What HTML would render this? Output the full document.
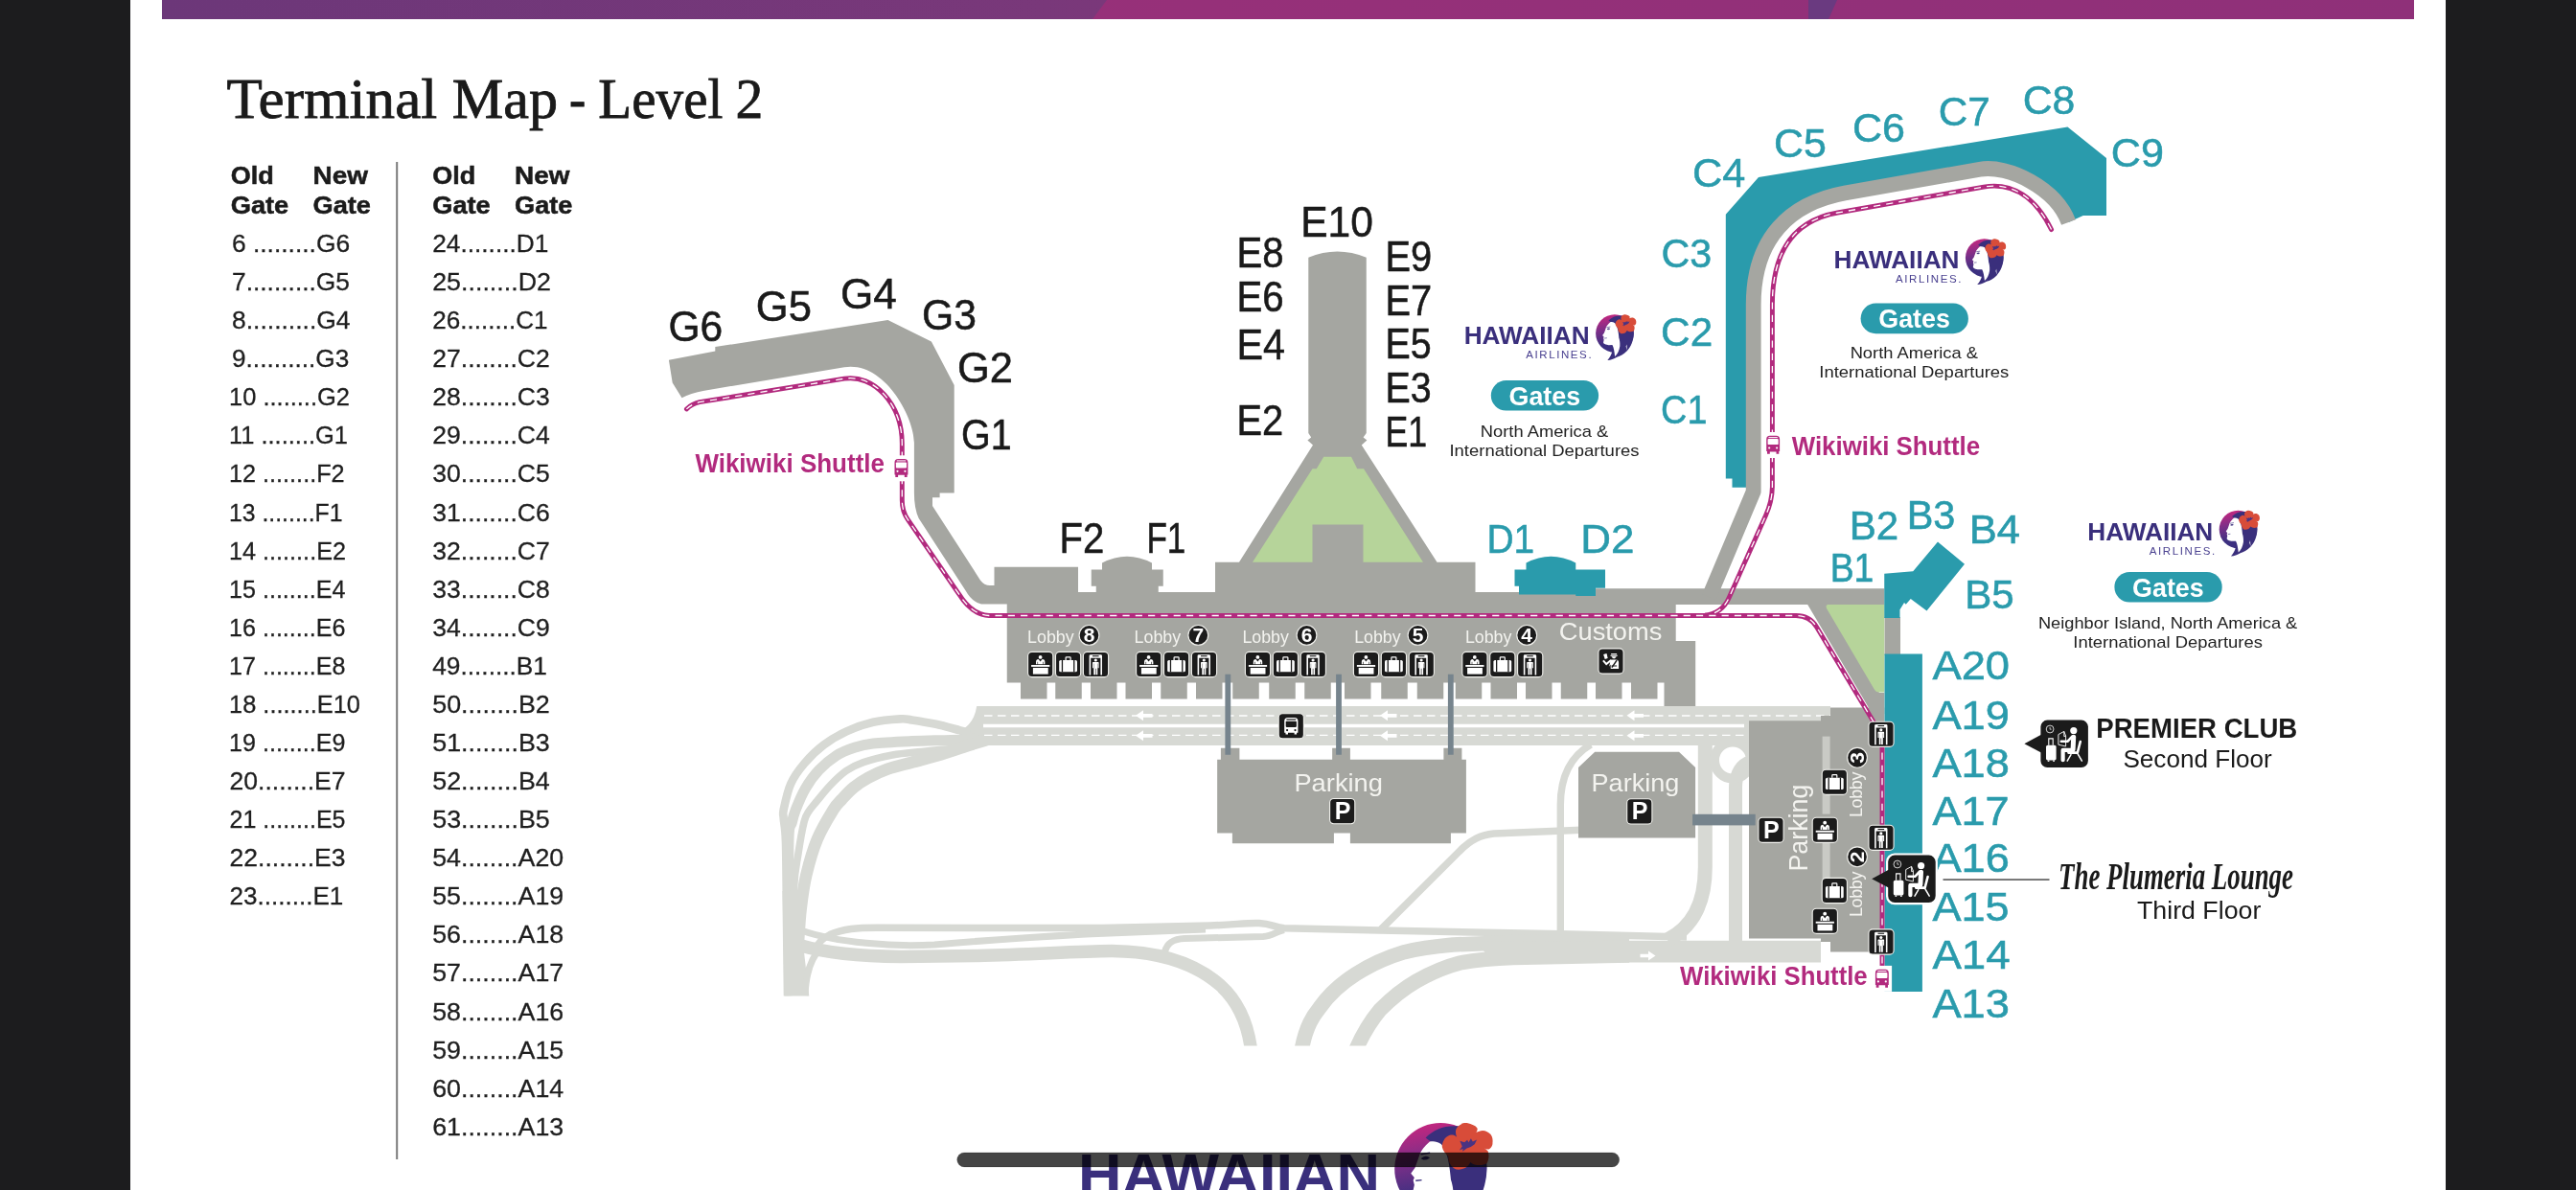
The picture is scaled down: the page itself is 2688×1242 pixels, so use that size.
<!DOCTYPE html>
<html><head><meta charset="utf-8"><title>Terminal Map - Level 2</title>
<style>
html,body{margin:0;padding:0;background:#fff;}
body{width:2688px;height:1242px;overflow:hidden;position:relative;font-family:"Liberation Sans",sans-serif;}
svg{position:absolute;left:0;top:0;display:block;will-change:transform;}
svg text{font-family:"Liberation Sans",sans-serif;white-space:pre;}
svg text.serif{font-family:"Liberation Serif",serif;}
</style></head><body>
<svg width="2688" height="1242" viewBox="0 0 2688 1242">
<g>
<rect x="0" y="0" width="136" height="1242" fill="#1c1c1e"/>
<rect x="2552" y="0" width="136" height="1242" fill="#1c1c1e"/>
<defs><linearGradient id="gpl" x1="0" y1="0" x2="1" y2="0"><stop offset="0" stop-color="#6c3779"/><stop offset="1" stop-color="#7a387a"/></linearGradient><linearGradient id="gpm" x1="0" y1="0" x2="1" y2="0"><stop offset="0" stop-color="#9c3079"/><stop offset="1" stop-color="#8f3079"/></linearGradient></defs>
<rect x="169" y="0" width="2350" height="20" fill="url(#gpm)"/>
<polygon points="169,0 1155,0 1140,20 169,20" fill="url(#gpl)"/>
<polygon points="1887,0 1917,0 1908,20 1887,20" fill="#6a3a80"/>
<path fill="#d7d9d4" d="M1019.4,737 H1910 V778 H1027.1 L1008,785 L1000,768 L1006.9,759.8 Q1017,752 1019.2,737 Z"/>
<path d="M1012,765 C1010.3,764.5 1007.8,763.8 1001.9,762.3 C996.0,760.8 985.0,757.6 976.6,755.8 C968.2,754.0 957.6,752.3 951.4,751.4 C945.2,750.5 946.0,750.0 939.3,750.4 C932.6,750.8 920.3,751.6 911,753.8 C901.7,756.0 891.9,759.4 883.3,763.4 C874.7,767.4 866.8,772.0 859.5,777.5 C852.2,783.0 845.1,790.0 839.4,796.7 C833.7,803.4 828.8,809.9 825.2,817.9 C821.6,825.9 819.0,838.9 817.7,845 C816.5,851.1 817.3,848.5 817.7,854.3 C818.1,860.1 819.5,862.4 820,880 C820.5,897.6 820.7,933.4 821,960 C821.3,986.6 821.8,1026.2 822,1039.4" fill="none" stroke="#d7d9d4" stroke-width="8.6" stroke-linecap="butt" stroke-linejoin="round" />
<path d="M1020,771 C1015.3,771.2 1003.2,772.0 991.8,772.4 C980.4,772.8 964.9,773.0 951.4,773.6 C937.9,774.2 921.1,774.9 911,776 C900.9,777.1 897.2,778.4 890.8,780.5 C884.4,782.6 878.8,784.7 872.7,788.6 C866.7,792.5 859.9,798.0 854.5,803.7 C849.1,809.4 844.4,816.0 840.4,822.9 C836.4,829.8 832.6,839.1 830.3,845 C828.0,850.9 827.7,852.2 826.5,858 C825.3,863.8 823.3,856.3 822.9,880 C822.5,903.7 823.8,980.0 824,1000" fill="none" stroke="#d7d9d4" stroke-width="11" stroke-linecap="butt" stroke-linejoin="round" />
<path d="M1000,781 C993.6,781.6 973.0,783.3 961.5,784.5 C950.0,785.7 941.3,786.2 931.2,788.1 C921.1,790.0 909.0,792.9 900.9,795.7 C892.8,798.5 888.5,800.8 882.8,804.7 C877.1,808.7 871.6,814.2 866.6,819.4 C861.6,824.6 856.2,831.6 852.5,836 C848.8,840.4 846.8,842.3 844.5,846 C842.2,849.7 840.9,850.4 839,858 C837.1,865.6 834.6,880.1 832.9,891.4 C831.2,902.7 829.4,907.6 828.6,925.7 C827.8,943.8 828.1,987.6 828,1000" fill="none" stroke="#d7d9d4" stroke-width="7.6" stroke-linecap="butt" stroke-linejoin="round" />
<path d="M1030,772 C1027.0,772.9 1020.0,774.9 1012,777.5 C1004.0,780.1 991.8,784.6 981.7,787.6 C971.6,790.6 960.6,793.2 951.4,795.7 C942.1,798.2 933.8,800.0 926.2,802.7 C918.6,805.4 911.9,808.6 906,811.8 C900.1,815.0 895.3,818.2 890.8,821.9 C886.2,825.6 882.2,830.1 878.7,834 C875.2,837.9 873.9,838.0 869.6,845 C865.3,852.0 857.6,864.4 852.9,875.7 C848.2,887.0 844.3,900.8 841.4,912.9 C838.5,925.0 837.1,936.6 835.7,948.6 C834.3,960.6 833.4,978.9 832.9,985" fill="none" stroke="#d7d9d4" stroke-width="12.5" stroke-linecap="butt" stroke-linejoin="round" />
<path fill="#d7d9d4" d="M816.5,930 L836,930 L838,985 L844.3,1039.4 H818.6 Z"/>
<defs><clipPath id="rclip"><rect x="700" y="700" width="1300" height="391.4"/></clipPath></defs><g clip-path="url(#rclip)">
<path d="M836,987 C860,994 900,998 940,998.5 L1020,997.5 C1080,996 1120,993 1160,992.5 C1215,993 1250,1008 1273,1028 C1292,1045 1303,1070 1306,1100" fill="none" stroke="#d7d9d4" stroke-width="13.5" stroke-linecap="butt" stroke-linejoin="round" />
<path d="M850,992 C853,984 858,979.5 866,975.5 C880,969 895,968.3 915,968.3 L1150,968.5 L1263,966 C1290,965 1300,963 1314,963.5 C1326,964 1330,967.5 1340,968.7 L1440,971 L1629,974.8 L1760,978" fill="none" stroke="#d7d9d4" stroke-width="7.5" stroke-linecap="butt" stroke-linejoin="round" />
<path d="M836,971 C850,976 875,981.5 904,984.3 C930,987 950,987.5 975,986 C1020,982 1080,978 1133,975 L1258,970" fill="none" stroke="#d7d9d4" stroke-width="7" stroke-linecap="butt" stroke-linejoin="round" />
<path d="M840,1039 C841,1015 846,1000 856,990" fill="none" stroke="#d7d9d4" stroke-width="7" stroke-linecap="butt" stroke-linejoin="round" />
<path d="M1215.6,993 C1218,984 1224,980 1236,979.5 L1318,977.5 C1328,977 1332,972 1340,970.5" fill="none" stroke="#d7d9d4" stroke-width="7" stroke-linecap="butt" stroke-linejoin="round" />
<path d="M1357.5,1100 C1362,1070 1372,1058 1377,1051.8 C1388,1036 1400,1026 1415,1016.5 C1430,1007 1448,999 1465.4,993.7 C1480,990 1500,987.5 1516,986 L1579,983.6 L1700,984" fill="none" stroke="#d7d9d4" stroke-width="15.5" stroke-linecap="butt" stroke-linejoin="round" />
<path d="M1413,1100 C1422,1078 1430,1066 1440,1054 C1452,1042 1464,1032 1478,1024 C1492,1016 1508,1009 1523.5,1005 C1545,1001 1560,1000 1579,999.5 L1700,997" fill="none" stroke="#d7d9d4" stroke-width="15.5" stroke-linecap="butt" stroke-linejoin="round" />
<path fill="#d7d9d4" d="M1540,983 L1700,981.8 H1900 V1004.4 H1640 L1560,1006 Z"/>
<path d="M1441,970 L1523.5,887.8 C1535,876 1545,871.5 1558.8,870 L1650,866.3" fill="none" stroke="#d7d9d4" stroke-width="7.5" stroke-linecap="butt" stroke-linejoin="round" />
<path d="M1628.3,974 V840 C1628.3,812 1638,790 1660,777" fill="none" stroke="#d7d9d4" stroke-width="7.4" stroke-linecap="butt" stroke-linejoin="round" />
<path d="M1779.3,776 V905 C1779.3,945 1765,968 1740,981" fill="none" stroke="#d7d9d4" stroke-width="15" stroke-linecap="butt" stroke-linejoin="round" />
<path d="M1811,985 V822 C1811,806 1818,798 1827,795" fill="none" stroke="#d7d9d4" stroke-width="14" stroke-linecap="butt" stroke-linejoin="round" />
<circle cx="1808" cy="793.5" r="19" fill="none" stroke="#d7d9d4" stroke-width="10"/>
</g>
<path d="M1027,747 H1910 M1027,767.3 H1823" stroke="#ffffff" stroke-width="1.3" stroke-dasharray="8.5 5.5" fill="none"/>
<path d="M1026,757.5 H1820" stroke="#ffffff" stroke-width="3.6" fill="none"/>
<path fill="#ffffff" d="M1185,746.8 l8,-5.5 v3.6 h9.5 v3.8 h-9.5 v3.6 z"/>
<path fill="#ffffff" d="M1185,767.8 l8,-5.5 v3.6 h9.5 v3.8 h-9.5 v3.6 z"/>
<path fill="#ffffff" d="M1440,746.8 l8,-5.5 v3.6 h9.5 v3.8 h-9.5 v3.6 z"/>
<path fill="#ffffff" d="M1440,767.8 l8,-5.5 v3.6 h9.5 v3.8 h-9.5 v3.6 z"/>
<path fill="#ffffff" d="M1697.5,746.8 l8,-5.5 v3.6 h9.5 v3.8 h-9.5 v3.6 z"/>
<path fill="#ffffff" d="M1697.5,767.8 l8,-5.5 v3.6 h9.5 v3.8 h-9.5 v3.6 z"/>
<path fill="#ffffff" d="M1727.5,997.5 l-7.5,-5 v3.3 h-8.5 v3.4 h8.5 v3.3 z"/>
<g transform="translate(0.9,0.3)"><path fill="#a5a6a1" d="M1269.25,792.5 H1273 V780.5 H1292.5 V792.5 H1389.25 V780.5 H1408 V792.5 H1505.5 V780.5 H1524.5 V792.5 H1529 V869.25 H1513 V880 H1408 V869.25 H1391 V880 H1285 V869.25 H1269.25 Z"/></g>
<path fill="#a5a6a1" d="M1647,800.9 L1664.2,784.7 H1752 L1769.1,800.9 V874.6 H1647 Z"/>
<path fill="#a5a6a1" d="M1825,752.3 H1900 V747 H1910 V738.6 H1966.3 V993.4 H1910 V983 H1900 V979.4 H1825 Z"/>
<rect x="1901.6" y="768.6" width="8" height="81" fill="#c9cac5"/>
<rect x="1901.6" y="879" width="8" height="42" fill="#c9cac5"/>
<path fill="#a5a6a1" d="M697.9,375.7 L746.3,366.4 V362.1 L926.5,333.9 L971.9,356.6 L995.7,402 V514.6 H980.6 V519.2 H973 V527.9 L1022.9,605.4 Q1027,611 1033,611 H1037.5 V591.75 H1125 V618 H1143.75 V611.75 H1138.75 V594.5 H1150 V587.5 Q1176,574 1202,587.5 V594.5 H1213.75 V611.75 H1208.75 V618 H1268 V586.75 H1293 L1370,464.4 L1364.4,459.6 L1368.2,456.5 L1365.3,452 V268.75 Q1395.4,256 1425.75,268.75 V452 L1422.6,456.5 L1426.4,459.6 L1420.8,464.4 L1499.5,586.75 H1539.5 V618 H1600 V614.3 H1966.25 V630.9 H1748.7 V668.9 H1769.2 V737 H1736.5 V712.5 H1050.75 V630.5 H1024 Q1014,628 1007.8,616.7 L958.7,541.1 Q953.9,531 953.9,514.6 V462 C953.9,435 922.5,376.6 881.1,383.3 L735,407.7 Q720,410.5 711.5,415.3 L701.7,399.6 Z"/>
<rect x="1065" y="712" width="27.5" height="17.5" fill="#a5a6a1"/>
<rect x="1101.25" y="712" width="27.5" height="17.5" fill="#a5a6a1"/>
<rect x="1138" y="712" width="27.5" height="17.5" fill="#a5a6a1"/>
<rect x="1174.5" y="712" width="27.5" height="17.5" fill="#a5a6a1"/>
<rect x="1211.25" y="712" width="27.5" height="17.5" fill="#a5a6a1"/>
<rect x="1248" y="712" width="27.5" height="17.5" fill="#a5a6a1"/>
<rect x="1286.25" y="712" width="27.5" height="17.5" fill="#a5a6a1"/>
<rect x="1324.25" y="712" width="27.5" height="17.5" fill="#a5a6a1"/>
<rect x="1361.25" y="712" width="27.5" height="17.5" fill="#a5a6a1"/>
<rect x="1403" y="712" width="27.5" height="17.5" fill="#a5a6a1"/>
<rect x="1441.25" y="712" width="27.5" height="17.5" fill="#a5a6a1"/>
<rect x="1478.75" y="712" width="27.5" height="17.5" fill="#a5a6a1"/>
<rect x="1518.75" y="712" width="27.5" height="17.5" fill="#a5a6a1"/>
<rect x="1555.5" y="712" width="27.5" height="17.5" fill="#a5a6a1"/>
<rect x="1592" y="712" width="27.5" height="17.5" fill="#a5a6a1"/>
<rect x="1628.75" y="712" width="27.5" height="17.5" fill="#a5a6a1"/>
<rect x="1665" y="712" width="27.5" height="17.5" fill="#a5a6a1"/>
<rect x="1702" y="712" width="27.5" height="17.5" fill="#a5a6a1"/>
<path fill="#2a9bac" d="M1800.8,499.6 V223.75 L1835,185 L2157.5,132.5 L2198,165 V225 H2173.75 L2158.5,232 C2145.5,196.3 2095.5,171.5 2066,176.7 L1925,201.5 C1868,212 1829.5,248 1829.5,318 V508.7 H1807.5 V499.6 Z"/>
<path fill="none" stroke="#a5a6a1" stroke-width="15.8" stroke-linejoin="round" d="M1783.4,623 L1829.7,513 V318 C1829.7,248 1868,212 1925,201.5 L2066,176.7 C2095.5,171.5 2145.5,196.3 2158.5,232"/>
<path fill="#a5a6a1" d="M1885.9,630.5 H1907 L1961,723 H1966.25 V745 H1953.7 Z"/>
<rect x="1966.5" y="644" width="16.5" height="40" fill="#a5a6a1"/>
<path fill="#b6d49a" d="M1381.25,476.75 H1410 L1416.25,489.25 H1423 L1485,586.75 H1422.5 V547.5 H1369.5 V586.75 H1307 L1369.5,489.25 H1373.75 Z"/>
<path fill="#b6d49a" d="M1908,631 H1966.25 V722.5 H1961 Q1957.5,722.5 1955.5,719 L1906,635 Q1904.5,631 1908,631 Z"/>
<path fill="#2a9bac" d="M1580.5,594.5 H1592.5 V587.5 Q1618.4,574 1644.25,587.5 V594.5 H1675 V613.75 H1665 V622 H1644.25 V620.5 H1585 V611.75 H1580.5 Z"/>
<path fill="#2a9bac" d="M1966.25,598.75 L1996.25,596.25 L2022,565.5 L2050,588.75 L2010.5,637.5 L1993.75,625 L1988.75,630.75 L1987,629 L1982.5,636.25 V645 H1966.25 Z"/>
<rect x="1966.5" y="682.5" width="39.4" height="352.5" fill="#2a9bac"/>
<rect x="1278.4" y="703.75" width="5.8" height="84" fill="#76848d"/>
<rect x="1394.1" y="703.75" width="5.8" height="84" fill="#76848d"/>
<rect x="1510.9" y="703.75" width="5.8" height="84" fill="#76848d"/>
<rect x="1766.1" y="849.8" width="65.6" height="11.6" fill="#76848d"/>
<path d="M1762,642.5 H1774 Q1795.9,642.5 1804.1,624 L1842.5,538 Q1849.4,522.6 1849.4,507 V318 C1849.4,262 1872,230 1917.5,222 L2070,195.1 C2100,190 2124,206 2140.6,239.6" fill="none" stroke="#b22a7e" stroke-width="4.9" stroke-linecap="round" stroke-linejoin="round"/>
<path d="M716.4,426.9 Q722,421.5 730,419.7 L881.1,395.2 C911.5,390.3 941.3,421.5 941.3,463 V522 Q941.3,533.5 947.2,542.2 L1000.5,619.8 Q1014,641.6 1032,642.5 H1874 Q1888.5,642.5 1895.5,654.2 L1957.5,757.6 Q1964,768 1964,781 V1013" fill="none" stroke="#b22a7e" stroke-width="4.9" stroke-linecap="round" stroke-linejoin="round"/>
<path d="M1789,639.6 Q1799.5,635 1804.1,624 L1842.5,538 Q1849.4,522.6 1849.4,507 V318 C1849.4,262 1872,230 1917.5,222 L2070,195.1 C2100,190 2124,206 2140.6,239.6" fill="none" stroke="#ffffff" stroke-width="1.3" stroke-dasharray="7.2 6.1"/>
<path d="M716.4,426.9 Q722,421.5 730,419.7 L881.1,395.2 C911.5,390.3 941.3,421.5 941.3,463 V522 Q941.3,533.5 947.2,542.2 L1000.5,619.8 Q1014,641.6 1032,642.5 H1874 Q1888.5,642.5 1895.5,654.2 L1957.5,757.6 Q1964,768 1964,781 V1013" fill="none" stroke="#ffffff" stroke-width="1.3" stroke-dasharray="7.2 6.1"/>
<text x="1072.1000000000001" y="670.8" font-size="18" fill="#f3f3ef" textLength="48.5" lengthAdjust="spacingAndGlyphs">Lobby</text>
<circle cx="1136.5" cy="662.9" r="10.4" fill="#1b1b1b" stroke="#f2f2ee" stroke-width="1.1"/>
<text x="1136.5" y="670.3" font-size="21" font-weight="bold" fill="#ffffff" text-anchor="middle">8</text>
<rect x="1072.6000000000001" y="680.4" width="26.2" height="26.2" rx="4.1" fill="#1b1b1b" stroke="#f2f2ee" stroke-width="1.1"/>
<g transform="translate(1073.2,681)" fill="#ffffff"><circle cx="12.4" cy="4.9" r="1.9"/><path d="M7.8,12.3 V10 Q7.8,7.2 10.4,7 L12.4,9.6 L14.4,7 Q17.2,7.2 17.2,10 V12.3 H15.6 V9.8 H15 V12.3 H9.9 V9.8 H9.3 V12.3 Z"/><rect x="2.9" y="13" width="19.2" height="1.9"/><rect x="4.7" y="16" width="15.8" height="6.6"/></g>
<rect x="1101.5000000000002" y="680.4" width="26.2" height="26.2" rx="4.1" fill="#1b1b1b" stroke="#f2f2ee" stroke-width="1.1"/>
<g transform="translate(1102.1000000000001,681)"><rect x="3.1" y="8" width="18.8" height="12.3" rx="1.6" fill="#ffffff"/><rect x="5.7" y="8" width="1.3" height="12.3" fill="#1b1b1b"/><rect x="18" y="8" width="1.3" height="12.3" fill="#1b1b1b"/><path d="M10,8 V5.6 Q10,4.9 10.7,4.9 H14.3 Q15,4.9 15,5.6 V8" fill="none" stroke="#ffffff" stroke-width="1.2"/></g>
<rect x="1130.4" y="680.4" width="26.2" height="26.2" rx="4.1" fill="#1b1b1b" stroke="#f2f2ee" stroke-width="1.1"/>
<g transform="translate(1131.0,681)" fill="#ffffff"><path d="M5.6,23.4 V3.6 Q5.6,2.2 7,2.2 H17.6 Q19,2.2 19,3.6 V23.4 H17.4 V5.8 H7.2 V23.4 Z"/><rect x="9" y="3.2" width="6.6" height="1.1" fill="#1b1b1b"/><circle cx="12.3" cy="8" r="1.6"/><path d="M9,10.6 Q9,10 9.7,10 H14.9 Q15.6,10 15.6,10.6 V16.3 H14.6 V11.6 H14.3 V23.2 H12.6 V16.8 H12 V23.2 H10.3 V11.6 H10 V16.3 H9 Z"/></g>
<text x="1183.6000000000001" y="670.8" font-size="18" fill="#f3f3ef" textLength="48.5" lengthAdjust="spacingAndGlyphs">Lobby</text>
<circle cx="1250.3" cy="662.9" r="10.4" fill="#1b1b1b" stroke="#f2f2ee" stroke-width="1.1"/>
<text x="1250.3" y="670.3" font-size="21" font-weight="bold" fill="#ffffff" text-anchor="middle">7</text>
<rect x="1185.6000000000001" y="680.4" width="26.2" height="26.2" rx="4.1" fill="#1b1b1b" stroke="#f2f2ee" stroke-width="1.1"/>
<g transform="translate(1186.2,681)" fill="#ffffff"><circle cx="12.4" cy="4.9" r="1.9"/><path d="M7.8,12.3 V10 Q7.8,7.2 10.4,7 L12.4,9.6 L14.4,7 Q17.2,7.2 17.2,10 V12.3 H15.6 V9.8 H15 V12.3 H9.9 V9.8 H9.3 V12.3 Z"/><rect x="2.9" y="13" width="19.2" height="1.9"/><rect x="4.7" y="16" width="15.8" height="6.6"/></g>
<rect x="1214.5000000000002" y="680.4" width="26.2" height="26.2" rx="4.1" fill="#1b1b1b" stroke="#f2f2ee" stroke-width="1.1"/>
<g transform="translate(1215.1000000000001,681)"><rect x="3.1" y="8" width="18.8" height="12.3" rx="1.6" fill="#ffffff"/><rect x="5.7" y="8" width="1.3" height="12.3" fill="#1b1b1b"/><rect x="18" y="8" width="1.3" height="12.3" fill="#1b1b1b"/><path d="M10,8 V5.6 Q10,4.9 10.7,4.9 H14.3 Q15,4.9 15,5.6 V8" fill="none" stroke="#ffffff" stroke-width="1.2"/></g>
<rect x="1243.4" y="680.4" width="26.2" height="26.2" rx="4.1" fill="#1b1b1b" stroke="#f2f2ee" stroke-width="1.1"/>
<g transform="translate(1244.0,681)" fill="#ffffff"><path d="M5.6,23.4 V3.6 Q5.6,2.2 7,2.2 H17.6 Q19,2.2 19,3.6 V23.4 H17.4 V5.8 H7.2 V23.4 Z"/><rect x="9" y="3.2" width="6.6" height="1.1" fill="#1b1b1b"/><circle cx="12.3" cy="8" r="1.6"/><path d="M9,10.6 Q9,10 9.7,10 H14.9 Q15.6,10 15.6,10.6 V16.3 H14.6 V11.6 H14.3 V23.2 H12.6 V16.8 H12 V23.2 H10.3 V11.6 H10 V16.3 H9 Z"/></g>
<text x="1296.4" y="670.8" font-size="18" fill="#f3f3ef" textLength="48.5" lengthAdjust="spacingAndGlyphs">Lobby</text>
<circle cx="1363.5" cy="662.9" r="10.4" fill="#1b1b1b" stroke="#f2f2ee" stroke-width="1.1"/>
<text x="1363.5" y="670.3" font-size="21" font-weight="bold" fill="#ffffff" text-anchor="middle">6</text>
<rect x="1299.4" y="680.4" width="26.2" height="26.2" rx="4.1" fill="#1b1b1b" stroke="#f2f2ee" stroke-width="1.1"/>
<g transform="translate(1300,681)" fill="#ffffff"><circle cx="12.4" cy="4.9" r="1.9"/><path d="M7.8,12.3 V10 Q7.8,7.2 10.4,7 L12.4,9.6 L14.4,7 Q17.2,7.2 17.2,10 V12.3 H15.6 V9.8 H15 V12.3 H9.9 V9.8 H9.3 V12.3 Z"/><rect x="2.9" y="13" width="19.2" height="1.9"/><rect x="4.7" y="16" width="15.8" height="6.6"/></g>
<rect x="1328.3000000000002" y="680.4" width="26.2" height="26.2" rx="4.1" fill="#1b1b1b" stroke="#f2f2ee" stroke-width="1.1"/>
<g transform="translate(1328.9,681)"><rect x="3.1" y="8" width="18.8" height="12.3" rx="1.6" fill="#ffffff"/><rect x="5.7" y="8" width="1.3" height="12.3" fill="#1b1b1b"/><rect x="18" y="8" width="1.3" height="12.3" fill="#1b1b1b"/><path d="M10,8 V5.6 Q10,4.9 10.7,4.9 H14.3 Q15,4.9 15,5.6 V8" fill="none" stroke="#ffffff" stroke-width="1.2"/></g>
<rect x="1357.2" y="680.4" width="26.2" height="26.2" rx="4.1" fill="#1b1b1b" stroke="#f2f2ee" stroke-width="1.1"/>
<g transform="translate(1357.8,681)" fill="#ffffff"><path d="M5.6,23.4 V3.6 Q5.6,2.2 7,2.2 H17.6 Q19,2.2 19,3.6 V23.4 H17.4 V5.8 H7.2 V23.4 Z"/><rect x="9" y="3.2" width="6.6" height="1.1" fill="#1b1b1b"/><circle cx="12.3" cy="8" r="1.6"/><path d="M9,10.6 Q9,10 9.7,10 H14.9 Q15.6,10 15.6,10.6 V16.3 H14.6 V11.6 H14.3 V23.2 H12.6 V16.8 H12 V23.2 H10.3 V11.6 H10 V16.3 H9 Z"/></g>
<text x="1413.15" y="670.8" font-size="18" fill="#f3f3ef" textLength="48.5" lengthAdjust="spacingAndGlyphs">Lobby</text>
<circle cx="1479.5" cy="662.9" r="10.4" fill="#1b1b1b" stroke="#f2f2ee" stroke-width="1.1"/>
<text x="1479.5" y="670.3" font-size="21" font-weight="bold" fill="#ffffff" text-anchor="middle">5</text>
<rect x="1412.4" y="680.4" width="26.2" height="26.2" rx="4.1" fill="#1b1b1b" stroke="#f2f2ee" stroke-width="1.1"/>
<g transform="translate(1413,681)" fill="#ffffff"><circle cx="12.4" cy="4.9" r="1.9"/><path d="M7.8,12.3 V10 Q7.8,7.2 10.4,7 L12.4,9.6 L14.4,7 Q17.2,7.2 17.2,10 V12.3 H15.6 V9.8 H15 V12.3 H9.9 V9.8 H9.3 V12.3 Z"/><rect x="2.9" y="13" width="19.2" height="1.9"/><rect x="4.7" y="16" width="15.8" height="6.6"/></g>
<rect x="1441.3000000000002" y="680.4" width="26.2" height="26.2" rx="4.1" fill="#1b1b1b" stroke="#f2f2ee" stroke-width="1.1"/>
<g transform="translate(1441.9,681)"><rect x="3.1" y="8" width="18.8" height="12.3" rx="1.6" fill="#ffffff"/><rect x="5.7" y="8" width="1.3" height="12.3" fill="#1b1b1b"/><rect x="18" y="8" width="1.3" height="12.3" fill="#1b1b1b"/><path d="M10,8 V5.6 Q10,4.9 10.7,4.9 H14.3 Q15,4.9 15,5.6 V8" fill="none" stroke="#ffffff" stroke-width="1.2"/></g>
<rect x="1470.2" y="680.4" width="26.2" height="26.2" rx="4.1" fill="#1b1b1b" stroke="#f2f2ee" stroke-width="1.1"/>
<g transform="translate(1470.8,681)" fill="#ffffff"><path d="M5.6,23.4 V3.6 Q5.6,2.2 7,2.2 H17.6 Q19,2.2 19,3.6 V23.4 H17.4 V5.8 H7.2 V23.4 Z"/><rect x="9" y="3.2" width="6.6" height="1.1" fill="#1b1b1b"/><circle cx="12.3" cy="8" r="1.6"/><path d="M9,10.6 Q9,10 9.7,10 H14.9 Q15.6,10 15.6,10.6 V16.3 H14.6 V11.6 H14.3 V23.2 H12.6 V16.8 H12 V23.2 H10.3 V11.6 H10 V16.3 H9 Z"/></g>
<text x="1528.9" y="670.8" font-size="18" fill="#f3f3ef" textLength="48.5" lengthAdjust="spacingAndGlyphs">Lobby</text>
<circle cx="1593.2" cy="662.9" r="10.4" fill="#1b1b1b" stroke="#f2f2ee" stroke-width="1.1"/>
<text x="1593.2" y="670.3" font-size="21" font-weight="bold" fill="#ffffff" text-anchor="middle">4</text>
<rect x="1525.8000000000002" y="680.4" width="26.2" height="26.2" rx="4.1" fill="#1b1b1b" stroke="#f2f2ee" stroke-width="1.1"/>
<g transform="translate(1526.4,681)" fill="#ffffff"><circle cx="12.4" cy="4.9" r="1.9"/><path d="M7.8,12.3 V10 Q7.8,7.2 10.4,7 L12.4,9.6 L14.4,7 Q17.2,7.2 17.2,10 V12.3 H15.6 V9.8 H15 V12.3 H9.9 V9.8 H9.3 V12.3 Z"/><rect x="2.9" y="13" width="19.2" height="1.9"/><rect x="4.7" y="16" width="15.8" height="6.6"/></g>
<rect x="1554.7000000000003" y="680.4" width="26.2" height="26.2" rx="4.1" fill="#1b1b1b" stroke="#f2f2ee" stroke-width="1.1"/>
<g transform="translate(1555.3000000000002,681)"><rect x="3.1" y="8" width="18.8" height="12.3" rx="1.6" fill="#ffffff"/><rect x="5.7" y="8" width="1.3" height="12.3" fill="#1b1b1b"/><rect x="18" y="8" width="1.3" height="12.3" fill="#1b1b1b"/><path d="M10,8 V5.6 Q10,4.9 10.7,4.9 H14.3 Q15,4.9 15,5.6 V8" fill="none" stroke="#ffffff" stroke-width="1.2"/></g>
<rect x="1583.6000000000001" y="680.4" width="26.2" height="26.2" rx="4.1" fill="#1b1b1b" stroke="#f2f2ee" stroke-width="1.1"/>
<g transform="translate(1584.2,681)" fill="#ffffff"><path d="M5.6,23.4 V3.6 Q5.6,2.2 7,2.2 H17.6 Q19,2.2 19,3.6 V23.4 H17.4 V5.8 H7.2 V23.4 Z"/><rect x="9" y="3.2" width="6.6" height="1.1" fill="#1b1b1b"/><circle cx="12.3" cy="8" r="1.6"/><path d="M9,10.6 Q9,10 9.7,10 H14.9 Q15.6,10 15.6,10.6 V16.3 H14.6 V11.6 H14.3 V23.2 H12.6 V16.8 H12 V23.2 H10.3 V11.6 H10 V16.3 H9 Z"/></g>
<text x="1626.8" y="667.6" font-size="26.6" fill="#f3f3ef" textLength="107.5" lengthAdjust="spacingAndGlyphs">Customs</text>
<rect x="1667.9" y="676.9" width="26.2" height="26.2" rx="4.1" fill="#1b1b1b" stroke="#f2f2ee" stroke-width="1.1"/>
<g transform="translate(1668.5,677.5)" fill="#ffffff"><rect x="12.6" y="4.6" width="6" height="1.1"/><rect x="12" y="6.2" width="7.2" height="1.1"/><path d="M13,7.7 H18.2 L17.4,9 L15.6,9.9 L13.8,9 Z"/><path d="M12.2,10.9 H17.5 Q20.6,11 20.6,14 V20.4 H12.2 V16 L10.6,18.2 Z"/><path d="M18.6,11.6 L13.4,19.2" stroke="#1b1b1b" stroke-width="1.5" fill="none"/><rect x="13" y="17" width="5.6" height="1" fill="#1b1b1b"/><path d="M4.4,11.9 L7.7,15.6 L12.6,11.4" stroke="#fff" stroke-width="2" fill="none" stroke-linejoin="miter"/><path d="M4.6,5.6 L8,4.6 L9.2,9.6 L6.2,10.6 Z"/></g>
<rect x="1334.2" y="744.6999999999999" width="26.2" height="26.2" rx="4.1" fill="#1b1b1b" stroke="#f2f2ee" stroke-width="1.1"/>
<g transform="translate(1334.8,745.3)"><path d="M5.4,19.5 V7.2 Q5.4,3.6 9,3.6 H16 Q19.6,3.6 19.6,7.2 V19.5 H18.3 V21.3 H15.8 V19.5 H9.2 V21.3 H6.7 V19.5 Z" fill="#ffffff"/><rect x="7.6" y="5" width="9.8" height="1.2" fill="#1b1b1b"/><rect x="6.9" y="7.4" width="11.2" height="6.2" rx="0.8" fill="#1b1b1b"/><circle cx="8.3" cy="16.8" r="1.1" fill="#1b1b1b"/><circle cx="16.7" cy="16.8" r="1.1" fill="#1b1b1b"/></g>
<rect x="1387.6000000000001" y="833.5" width="26.2" height="26.2" rx="4.1" fill="#1b1b1b" stroke="#f2f2ee" stroke-width="1.1"/>
<text x="1401.1000000000001" y="855.1" font-size="25" fill="#ffffff" font-weight="bold" text-anchor="middle">P</text>
<rect x="1697.7" y="833.8" width="26.2" height="26.2" rx="4.1" fill="#1b1b1b" stroke="#f2f2ee" stroke-width="1.1"/>
<text x="1711.2" y="855.4" font-size="25" fill="#ffffff" font-weight="bold" text-anchor="middle">P</text>
<rect x="1834.9" y="853.1999999999999" width="26.2" height="26.2" rx="4.1" fill="#1b1b1b" stroke="#f2f2ee" stroke-width="1.1"/>
<text x="1848.4" y="874.8" font-size="25" fill="#ffffff" font-weight="bold" text-anchor="middle">P</text>
<rect x="1949.9" y="753.1999999999999" width="26.2" height="26.2" rx="4.1" fill="#1b1b1b" stroke="#f2f2ee" stroke-width="1.1"/>
<g transform="translate(1950.5,753.8)" fill="#ffffff"><path d="M5.6,23.4 V3.6 Q5.6,2.2 7,2.2 H17.6 Q19,2.2 19,3.6 V23.4 H17.4 V5.8 H7.2 V23.4 Z"/><rect x="9" y="3.2" width="6.6" height="1.1" fill="#1b1b1b"/><circle cx="12.3" cy="8" r="1.6"/><path d="M9,10.6 Q9,10 9.7,10 H14.9 Q15.6,10 15.6,10.6 V16.3 H14.6 V11.6 H14.3 V23.2 H12.6 V16.8 H12 V23.2 H10.3 V11.6 H10 V16.3 H9 Z"/></g>
<rect x="1949.9" y="861.1999999999999" width="26.2" height="26.2" rx="4.1" fill="#1b1b1b" stroke="#f2f2ee" stroke-width="1.1"/>
<g transform="translate(1950.5,861.8)" fill="#ffffff"><path d="M5.6,23.4 V3.6 Q5.6,2.2 7,2.2 H17.6 Q19,2.2 19,3.6 V23.4 H17.4 V5.8 H7.2 V23.4 Z"/><rect x="9" y="3.2" width="6.6" height="1.1" fill="#1b1b1b"/><circle cx="12.3" cy="8" r="1.6"/><path d="M9,10.6 Q9,10 9.7,10 H14.9 Q15.6,10 15.6,10.6 V16.3 H14.6 V11.6 H14.3 V23.2 H12.6 V16.8 H12 V23.2 H10.3 V11.6 H10 V16.3 H9 Z"/></g>
<rect x="1949.9" y="969.9" width="26.2" height="26.2" rx="4.1" fill="#1b1b1b" stroke="#f2f2ee" stroke-width="1.1"/>
<g transform="translate(1950.5,970.5)" fill="#ffffff"><path d="M5.6,23.4 V3.6 Q5.6,2.2 7,2.2 H17.6 Q19,2.2 19,3.6 V23.4 H17.4 V5.8 H7.2 V23.4 Z"/><rect x="9" y="3.2" width="6.6" height="1.1" fill="#1b1b1b"/><circle cx="12.3" cy="8" r="1.6"/><path d="M9,10.6 Q9,10 9.7,10 H14.9 Q15.6,10 15.6,10.6 V16.3 H14.6 V11.6 H14.3 V23.2 H12.6 V16.8 H12 V23.2 H10.3 V11.6 H10 V16.3 H9 Z"/></g>
<rect x="1901.2" y="803.1999999999999" width="26.2" height="26.2" rx="4.1" fill="#1b1b1b" stroke="#f2f2ee" stroke-width="1.1"/>
<g transform="translate(1901.8,803.8)"><rect x="3.1" y="8" width="18.8" height="12.3" rx="1.6" fill="#ffffff"/><rect x="5.7" y="8" width="1.3" height="12.3" fill="#1b1b1b"/><rect x="18" y="8" width="1.3" height="12.3" fill="#1b1b1b"/><path d="M10,8 V5.6 Q10,4.9 10.7,4.9 H14.3 Q15,4.9 15,5.6 V8" fill="none" stroke="#ffffff" stroke-width="1.2"/></g>
<rect x="1901.2" y="916.4" width="26.2" height="26.2" rx="4.1" fill="#1b1b1b" stroke="#f2f2ee" stroke-width="1.1"/>
<g transform="translate(1901.8,917)"><rect x="3.1" y="8" width="18.8" height="12.3" rx="1.6" fill="#ffffff"/><rect x="5.7" y="8" width="1.3" height="12.3" fill="#1b1b1b"/><rect x="18" y="8" width="1.3" height="12.3" fill="#1b1b1b"/><path d="M10,8 V5.6 Q10,4.9 10.7,4.9 H14.3 Q15,4.9 15,5.6 V8" fill="none" stroke="#ffffff" stroke-width="1.2"/></g>
<rect x="1891.2" y="853.1999999999999" width="26.2" height="26.2" rx="4.1" fill="#1b1b1b" stroke="#f2f2ee" stroke-width="1.1"/>
<g transform="translate(1891.8,853.8)" fill="#ffffff"><circle cx="12.4" cy="4.9" r="1.9"/><path d="M7.8,12.3 V10 Q7.8,7.2 10.4,7 L12.4,9.6 L14.4,7 Q17.2,7.2 17.2,10 V12.3 H15.6 V9.8 H15 V12.3 H9.9 V9.8 H9.3 V12.3 Z"/><rect x="2.9" y="13" width="19.2" height="1.9"/><rect x="4.7" y="16" width="15.8" height="6.6"/></g>
<rect x="1891.2" y="948.1999999999999" width="26.2" height="26.2" rx="4.1" fill="#1b1b1b" stroke="#f2f2ee" stroke-width="1.1"/>
<g transform="translate(1891.8,948.8)" fill="#ffffff"><circle cx="12.4" cy="4.9" r="1.9"/><path d="M7.8,12.3 V10 Q7.8,7.2 10.4,7 L12.4,9.6 L14.4,7 Q17.2,7.2 17.2,10 V12.3 H15.6 V9.8 H15 V12.3 H9.9 V9.8 H9.3 V12.3 Z"/><rect x="2.9" y="13" width="19.2" height="1.9"/><rect x="4.7" y="16" width="15.8" height="6.6"/></g>
<circle cx="1938" cy="790.8" r="10.4" fill="#1b1b1b" stroke="#f2f2ee" stroke-width="1.1"/>
<text x="1938" y="798.1999999999999" font-size="21" font-weight="bold" fill="#ffffff" text-anchor="middle" transform="rotate(-90 1938 790.8)">3</text>
<circle cx="1938" cy="894.3" r="10.4" fill="#1b1b1b" stroke="#f2f2ee" stroke-width="1.1"/>
<text x="1938" y="901.6999999999999" font-size="21" font-weight="bold" fill="#ffffff" text-anchor="middle" transform="rotate(-90 1938 894.3)">2</text>
<text x="1943" y="853" font-size="18" fill="#f3f3ef" transform="rotate(-90 1943 853)" textLength="47.5">Lobby</text>
<text x="1943" y="957" font-size="18" fill="#f3f3ef" transform="rotate(-90 1943 957)" textLength="47.5">Lobby</text>
<text x="1885.8" y="909.6" font-size="26.8" fill="#f3f3ef" transform="rotate(-90 1885.8 909.6)" textLength="91">Parking</text>
<text x="1350.4" y="825.9" font-size="26.3" fill="#f3f3ef" textLength="92.6" lengthAdjust="spacingAndGlyphs">Parking</text>
<text x="1660.6" y="825.6" font-size="26.3" fill="#f3f3ef" textLength="91.6" lengthAdjust="spacingAndGlyphs">Parking</text>
<text x="236.5" y="123.4" font-size="60" fill="#1a1a1a" textLength="219.8" lengthAdjust="spacingAndGlyphs" font-family="Liberation Serif" class="serif" stroke="#1a1a1a" stroke-width="0.8">Terminal</text>
<text x="471.7" y="123.4" font-size="60" fill="#1a1a1a" textLength="110.3" lengthAdjust="spacingAndGlyphs" font-family="Liberation Serif" class="serif" stroke="#1a1a1a" stroke-width="0.8">Map</text>
<text x="594" y="123.4" font-size="60" fill="#1a1a1a" textLength="17.2" lengthAdjust="spacingAndGlyphs" font-family="Liberation Serif" class="serif" stroke="#1a1a1a" stroke-width="0.8">-</text>
<text x="624.3" y="123.4" font-size="60" fill="#1a1a1a" textLength="130.1" lengthAdjust="spacingAndGlyphs" font-family="Liberation Serif" class="serif" stroke="#1a1a1a" stroke-width="0.8">Level</text>
<text x="767.6" y="123.4" font-size="60" fill="#1a1a1a" textLength="28.8" lengthAdjust="spacingAndGlyphs" font-family="Liberation Serif" class="serif" stroke="#1a1a1a" stroke-width="0.8">2</text>
<text x="240.70000000000002" y="191.8" font-size="25" fill="#1b1b1b" font-weight="bold" textLength="45" lengthAdjust="spacingAndGlyphs" stroke="#1b1b1b" stroke-width="0.5">Old</text>
<text x="240.70000000000002" y="222.5" font-size="25" fill="#1b1b1b" font-weight="bold" textLength="60.6" lengthAdjust="spacingAndGlyphs" stroke="#1b1b1b" stroke-width="0.5">Gate</text>
<text x="326.6" y="191.8" font-size="25" fill="#1b1b1b" font-weight="bold" textLength="57.4" lengthAdjust="spacingAndGlyphs" stroke="#1b1b1b" stroke-width="0.5">New</text>
<text x="326.6" y="222.5" font-size="25" fill="#1b1b1b" font-weight="bold" textLength="60.4" lengthAdjust="spacingAndGlyphs" stroke="#1b1b1b" stroke-width="0.5">Gate</text>
<text x="451.2" y="191.8" font-size="25" fill="#1b1b1b" font-weight="bold" textLength="45" lengthAdjust="spacingAndGlyphs" stroke="#1b1b1b" stroke-width="0.5">Old</text>
<text x="451.2" y="222.5" font-size="25" fill="#1b1b1b" font-weight="bold" textLength="60.6" lengthAdjust="spacingAndGlyphs" stroke="#1b1b1b" stroke-width="0.5">Gate</text>
<text x="537.0" y="191.8" font-size="25" fill="#1b1b1b" font-weight="bold" textLength="57.4" lengthAdjust="spacingAndGlyphs" stroke="#1b1b1b" stroke-width="0.5">New</text>
<text x="537.0" y="222.5" font-size="25" fill="#1b1b1b" font-weight="bold" textLength="60.4" lengthAdjust="spacingAndGlyphs" stroke="#1b1b1b" stroke-width="0.5">Gate</text>
<rect x="413.2" y="169" width="2" height="1041" fill="#7a7a7a"/>
<text x="241.9" y="262.9" font-size="26.6" fill="#1f1f1f" textLength="123.3" lengthAdjust="spacingAndGlyphs" stroke="#1f1f1f" stroke-width="0.3">6 .........G6</text>
<text x="242" y="303.0" font-size="26.6" fill="#1f1f1f" textLength="123" lengthAdjust="spacingAndGlyphs" stroke="#1f1f1f" stroke-width="0.3">7..........G5</text>
<text x="242" y="343.1" font-size="26.6" fill="#1f1f1f" textLength="123.6" lengthAdjust="spacingAndGlyphs" stroke="#1f1f1f" stroke-width="0.3">8..........G4</text>
<text x="242" y="383.1" font-size="26.6" fill="#1f1f1f" textLength="122.3" lengthAdjust="spacingAndGlyphs" stroke="#1f1f1f" stroke-width="0.3">9..........G3</text>
<text x="239" y="423.2" font-size="26.6" fill="#1f1f1f" textLength="126" lengthAdjust="spacingAndGlyphs" stroke="#1f1f1f" stroke-width="0.3">10 ........G2</text>
<text x="239" y="463.3" font-size="26.6" fill="#1f1f1f" textLength="124" lengthAdjust="spacingAndGlyphs" stroke="#1f1f1f" stroke-width="0.3">11 ........G1</text>
<text x="239" y="503.4" font-size="26.6" fill="#1f1f1f" textLength="120.6" lengthAdjust="spacingAndGlyphs" stroke="#1f1f1f" stroke-width="0.3">12 ........F2</text>
<text x="239" y="543.5" font-size="26.6" fill="#1f1f1f" textLength="118.5" lengthAdjust="spacingAndGlyphs" stroke="#1f1f1f" stroke-width="0.3">13 ........F1</text>
<text x="239" y="583.5" font-size="26.6" fill="#1f1f1f" textLength="122" lengthAdjust="spacingAndGlyphs" stroke="#1f1f1f" stroke-width="0.3">14 ........E2</text>
<text x="239" y="623.6" font-size="26.6" fill="#1f1f1f" textLength="121.5" lengthAdjust="spacingAndGlyphs" stroke="#1f1f1f" stroke-width="0.3">15 ........E4</text>
<text x="239" y="663.7" font-size="26.6" fill="#1f1f1f" textLength="121.5" lengthAdjust="spacingAndGlyphs" stroke="#1f1f1f" stroke-width="0.3">16 ........E6</text>
<text x="239" y="703.8" font-size="26.6" fill="#1f1f1f" textLength="121.5" lengthAdjust="spacingAndGlyphs" stroke="#1f1f1f" stroke-width="0.3">17 ........E8</text>
<text x="239" y="743.9" font-size="26.6" fill="#1f1f1f" textLength="137" lengthAdjust="spacingAndGlyphs" stroke="#1f1f1f" stroke-width="0.3">18 ........E10</text>
<text x="239" y="783.9" font-size="26.6" fill="#1f1f1f" textLength="121.5" lengthAdjust="spacingAndGlyphs" stroke="#1f1f1f" stroke-width="0.3">19 ........E9</text>
<text x="239.5" y="824.0" font-size="26.6" fill="#1f1f1f" textLength="121.0" lengthAdjust="spacingAndGlyphs" stroke="#1f1f1f" stroke-width="0.3">20........E7</text>
<text x="239.5" y="864.1" font-size="26.6" fill="#1f1f1f" textLength="121.0" lengthAdjust="spacingAndGlyphs" stroke="#1f1f1f" stroke-width="0.3">21 ........E5</text>
<text x="239.5" y="904.2" font-size="26.6" fill="#1f1f1f" textLength="121.0" lengthAdjust="spacingAndGlyphs" stroke="#1f1f1f" stroke-width="0.3">22........E3</text>
<text x="239.5" y="944.3" font-size="26.6" fill="#1f1f1f" textLength="118.8" lengthAdjust="spacingAndGlyphs" stroke="#1f1f1f" stroke-width="0.3">23........E1</text>
<text x="451.2" y="262.9" font-size="26.6" fill="#1f1f1f" textLength="121.2" lengthAdjust="spacingAndGlyphs" stroke="#1f1f1f" stroke-width="0.3">24........D1</text>
<text x="451.2" y="303.0" font-size="26.6" fill="#1f1f1f" textLength="123.8" lengthAdjust="spacingAndGlyphs" stroke="#1f1f1f" stroke-width="0.3">25........D2</text>
<text x="451.2" y="343.1" font-size="26.6" fill="#1f1f1f" textLength="120.3" lengthAdjust="spacingAndGlyphs" stroke="#1f1f1f" stroke-width="0.3">26........C1</text>
<text x="451.2" y="383.1" font-size="26.6" fill="#1f1f1f" textLength="122.6" lengthAdjust="spacingAndGlyphs" stroke="#1f1f1f" stroke-width="0.3">27........C2</text>
<text x="451.2" y="423.2" font-size="26.6" fill="#1f1f1f" textLength="122.6" lengthAdjust="spacingAndGlyphs" stroke="#1f1f1f" stroke-width="0.3">28........C3</text>
<text x="451.2" y="463.3" font-size="26.6" fill="#1f1f1f" textLength="122.6" lengthAdjust="spacingAndGlyphs" stroke="#1f1f1f" stroke-width="0.3">29........C4</text>
<text x="451.2" y="503.4" font-size="26.6" fill="#1f1f1f" textLength="122.6" lengthAdjust="spacingAndGlyphs" stroke="#1f1f1f" stroke-width="0.3">30........C5</text>
<text x="451.2" y="543.5" font-size="26.6" fill="#1f1f1f" textLength="122.6" lengthAdjust="spacingAndGlyphs" stroke="#1f1f1f" stroke-width="0.3">31........C6</text>
<text x="451.2" y="583.5" font-size="26.6" fill="#1f1f1f" textLength="122.6" lengthAdjust="spacingAndGlyphs" stroke="#1f1f1f" stroke-width="0.3">32........C7</text>
<text x="451.2" y="623.6" font-size="26.6" fill="#1f1f1f" textLength="122.6" lengthAdjust="spacingAndGlyphs" stroke="#1f1f1f" stroke-width="0.3">33........C8</text>
<text x="451.2" y="663.7" font-size="26.6" fill="#1f1f1f" textLength="122.6" lengthAdjust="spacingAndGlyphs" stroke="#1f1f1f" stroke-width="0.3">34........C9</text>
<text x="451.2" y="703.8" font-size="26.6" fill="#1f1f1f" textLength="119.8" lengthAdjust="spacingAndGlyphs" stroke="#1f1f1f" stroke-width="0.3">49........B1</text>
<text x="451.2" y="743.9" font-size="26.6" fill="#1f1f1f" textLength="122.6" lengthAdjust="spacingAndGlyphs" stroke="#1f1f1f" stroke-width="0.3">50........B2</text>
<text x="451.2" y="783.9" font-size="26.6" fill="#1f1f1f" textLength="122.6" lengthAdjust="spacingAndGlyphs" stroke="#1f1f1f" stroke-width="0.3">51........B3</text>
<text x="451.2" y="824.0" font-size="26.6" fill="#1f1f1f" textLength="122.6" lengthAdjust="spacingAndGlyphs" stroke="#1f1f1f" stroke-width="0.3">52........B4</text>
<text x="451.2" y="864.1" font-size="26.6" fill="#1f1f1f" textLength="122.6" lengthAdjust="spacingAndGlyphs" stroke="#1f1f1f" stroke-width="0.3">53........B5</text>
<text x="451.2" y="904.2" font-size="26.6" fill="#1f1f1f" textLength="137.0" lengthAdjust="spacingAndGlyphs" stroke="#1f1f1f" stroke-width="0.3">54........A20</text>
<text x="451.2" y="944.3" font-size="26.6" fill="#1f1f1f" textLength="137.0" lengthAdjust="spacingAndGlyphs" stroke="#1f1f1f" stroke-width="0.3">55........A19</text>
<text x="451.2" y="984.3" font-size="26.6" fill="#1f1f1f" textLength="137.0" lengthAdjust="spacingAndGlyphs" stroke="#1f1f1f" stroke-width="0.3">56........A18</text>
<text x="451.2" y="1024.4" font-size="26.6" fill="#1f1f1f" textLength="137.0" lengthAdjust="spacingAndGlyphs" stroke="#1f1f1f" stroke-width="0.3">57........A17</text>
<text x="451.2" y="1064.5" font-size="26.6" fill="#1f1f1f" textLength="137.0" lengthAdjust="spacingAndGlyphs" stroke="#1f1f1f" stroke-width="0.3">58........A16</text>
<text x="451.2" y="1104.6" font-size="26.6" fill="#1f1f1f" textLength="137.0" lengthAdjust="spacingAndGlyphs" stroke="#1f1f1f" stroke-width="0.3">59........A15</text>
<text x="451.2" y="1144.7" font-size="26.6" fill="#1f1f1f" textLength="137.0" lengthAdjust="spacingAndGlyphs" stroke="#1f1f1f" stroke-width="0.3">60........A14</text>
<text x="451.2" y="1184.7" font-size="26.6" fill="#1f1f1f" textLength="137.0" lengthAdjust="spacingAndGlyphs" stroke="#1f1f1f" stroke-width="0.3">61........A13</text>
<text x="697.4" y="355.8" font-size="44" fill="#1a1a1a" textLength="56.8" lengthAdjust="spacingAndGlyphs" stroke="#1a1a1a" stroke-width="0.55">G6</text>
<text x="788.8" y="334.6" font-size="44" fill="#1a1a1a" textLength="58.1" lengthAdjust="spacingAndGlyphs" stroke="#1a1a1a" stroke-width="0.55">G5</text>
<text x="876.9" y="321.5" font-size="44" fill="#1a1a1a" textLength="58.8" lengthAdjust="spacingAndGlyphs" stroke="#1a1a1a" stroke-width="0.55">G4</text>
<text x="962.0" y="344" font-size="44" fill="#1a1a1a" textLength="56.9" lengthAdjust="spacingAndGlyphs" stroke="#1a1a1a" stroke-width="0.55">G3</text>
<text x="998.9" y="398.7" font-size="44" fill="#1a1a1a" textLength="58.0" lengthAdjust="spacingAndGlyphs" stroke="#1a1a1a" stroke-width="0.55">G2</text>
<text x="1003.0" y="468.8" font-size="44" fill="#1a1a1a" textLength="52.6" lengthAdjust="spacingAndGlyphs" stroke="#1a1a1a" stroke-width="0.55">G1</text>
<text x="1105.4" y="577" font-size="44" fill="#1a1a1a" textLength="46.8" lengthAdjust="spacingAndGlyphs" stroke="#1a1a1a" stroke-width="0.55">F2</text>
<text x="1196.4" y="577" font-size="44" fill="#1a1a1a" textLength="41.0" lengthAdjust="spacingAndGlyphs" stroke="#1a1a1a" stroke-width="0.55">F1</text>
<text x="1357.2" y="247" font-size="44" fill="#1a1a1a" textLength="75.7" lengthAdjust="spacingAndGlyphs" stroke="#1a1a1a" stroke-width="0.55">E10</text>
<text x="1290.4" y="279.25" font-size="44" fill="#1a1a1a" textLength="49.2" lengthAdjust="spacingAndGlyphs" stroke="#1a1a1a" stroke-width="0.55">E8</text>
<text x="1290.4" y="325" font-size="44" fill="#1a1a1a" textLength="49.2" lengthAdjust="spacingAndGlyphs" stroke="#1a1a1a" stroke-width="0.55">E6</text>
<text x="1290.4" y="374.5" font-size="44" fill="#1a1a1a" textLength="50.5" lengthAdjust="spacingAndGlyphs" stroke="#1a1a1a" stroke-width="0.55">E4</text>
<text x="1290.4" y="453.75" font-size="44" fill="#1a1a1a" textLength="48.7" lengthAdjust="spacingAndGlyphs" stroke="#1a1a1a" stroke-width="0.55">E2</text>
<text x="1445.4" y="283" font-size="44" fill="#1a1a1a" textLength="48.7" lengthAdjust="spacingAndGlyphs" stroke="#1a1a1a" stroke-width="0.55">E9</text>
<text x="1445.4" y="328.75" font-size="44" fill="#1a1a1a" textLength="48.7" lengthAdjust="spacingAndGlyphs" stroke="#1a1a1a" stroke-width="0.55">E7</text>
<text x="1445.4" y="373.75" font-size="44" fill="#1a1a1a" textLength="48.2" lengthAdjust="spacingAndGlyphs" stroke="#1a1a1a" stroke-width="0.55">E5</text>
<text x="1445.4" y="420" font-size="44" fill="#1a1a1a" textLength="48.2" lengthAdjust="spacingAndGlyphs" stroke="#1a1a1a" stroke-width="0.55">E3</text>
<text x="1445.4" y="466.2" font-size="44" fill="#1a1a1a" textLength="43.7" lengthAdjust="spacingAndGlyphs" stroke="#1a1a1a" stroke-width="0.55">E1</text>
<text x="1551.4" y="577" font-size="43.2" fill="#2a9bac" textLength="49.7" lengthAdjust="spacingAndGlyphs" stroke="#2a9bac" stroke-width="0.55">D1</text>
<text x="1649.2" y="577" font-size="43.2" fill="#2a9bac" textLength="56.2" lengthAdjust="spacingAndGlyphs" stroke="#2a9bac" stroke-width="0.55">D2</text>
<text x="1733.1" y="441.6" font-size="43.2" fill="#2a9bac" textLength="48.3" lengthAdjust="spacingAndGlyphs" stroke="#2a9bac" stroke-width="0.55">C1</text>
<text x="1733.1" y="360.9" font-size="43.2" fill="#2a9bac" textLength="54.1" lengthAdjust="spacingAndGlyphs" stroke="#2a9bac" stroke-width="0.55">C2</text>
<text x="1733.6" y="278.5" font-size="43.2" fill="#2a9bac" textLength="52.7" lengthAdjust="spacingAndGlyphs" stroke="#2a9bac" stroke-width="0.55">C3</text>
<text x="1766.1" y="194.7" font-size="43.2" fill="#2a9bac" textLength="55.3" lengthAdjust="spacingAndGlyphs" stroke="#2a9bac" stroke-width="0.55">C4</text>
<text x="1851.1" y="163.5" font-size="43.2" fill="#2a9bac" textLength="54.8" lengthAdjust="spacingAndGlyphs" stroke="#2a9bac" stroke-width="0.55">C5</text>
<text x="1932.9" y="147.5" font-size="43.2" fill="#2a9bac" textLength="55.0" lengthAdjust="spacingAndGlyphs" stroke="#2a9bac" stroke-width="0.55">C6</text>
<text x="2022.7" y="130.5" font-size="43.2" fill="#2a9bac" textLength="54.0" lengthAdjust="spacingAndGlyphs" stroke="#2a9bac" stroke-width="0.55">C7</text>
<text x="2110.7" y="118.6" font-size="43.2" fill="#2a9bac" textLength="54.6" lengthAdjust="spacingAndGlyphs" stroke="#2a9bac" stroke-width="0.55">C8</text>
<text x="2202.8" y="173.8" font-size="43.2" fill="#2a9bac" textLength="55.1" lengthAdjust="spacingAndGlyphs" stroke="#2a9bac" stroke-width="0.55">C9</text>
<text x="1909.7" y="606.75" font-size="41.8" fill="#2a9bac" textLength="45.7" lengthAdjust="spacingAndGlyphs" stroke="#2a9bac" stroke-width="0.55">B1</text>
<text x="1929.7" y="562.5" font-size="41.8" fill="#2a9bac" textLength="51.5" lengthAdjust="spacingAndGlyphs" stroke="#2a9bac" stroke-width="0.55">B2</text>
<text x="1989.7" y="552" font-size="41.8" fill="#2a9bac" textLength="50.7" lengthAdjust="spacingAndGlyphs" stroke="#2a9bac" stroke-width="0.55">B3</text>
<text x="2054.7" y="567" font-size="41.8" fill="#2a9bac" textLength="53.2" lengthAdjust="spacingAndGlyphs" stroke="#2a9bac" stroke-width="0.55">B4</text>
<text x="2050.2" y="634.5" font-size="41.8" fill="#2a9bac" textLength="51.5" lengthAdjust="spacingAndGlyphs" stroke="#2a9bac" stroke-width="0.55">B5</text>
<text x="2016.4" y="708.75" font-size="41.8" fill="#2a9bac" textLength="80.7" lengthAdjust="spacingAndGlyphs" stroke="#2a9bac" stroke-width="0.55">A20</text>
<text x="2016.4" y="760.5" font-size="41.8" fill="#2a9bac" textLength="80.5" lengthAdjust="spacingAndGlyphs" stroke="#2a9bac" stroke-width="0.55">A19</text>
<text x="2016.4" y="810.5" font-size="41.8" fill="#2a9bac" textLength="80.5" lengthAdjust="spacingAndGlyphs" stroke="#2a9bac" stroke-width="0.55">A18</text>
<text x="2016.4" y="860.5" font-size="41.8" fill="#2a9bac" textLength="80.2" lengthAdjust="spacingAndGlyphs" stroke="#2a9bac" stroke-width="0.55">A17</text>
<text x="2016.4" y="910" font-size="41.8" fill="#2a9bac" textLength="80.5" lengthAdjust="spacingAndGlyphs" stroke="#2a9bac" stroke-width="0.55">A16</text>
<text x="2016.4" y="960.75" font-size="41.8" fill="#2a9bac" textLength="80.2" lengthAdjust="spacingAndGlyphs" stroke="#2a9bac" stroke-width="0.55">A15</text>
<text x="2016.4" y="1011.25" font-size="41.8" fill="#2a9bac" textLength="81.2" lengthAdjust="spacingAndGlyphs" stroke="#2a9bac" stroke-width="0.55">A14</text>
<text x="2016.4" y="1061.5" font-size="41.8" fill="#2a9bac" textLength="80.5" lengthAdjust="spacingAndGlyphs" stroke="#2a9bac" stroke-width="0.55">A13</text>
<text x="1869.8" y="474.8" font-size="26.8" fill="#b22a7e" font-weight="bold" textLength="196.3" lengthAdjust="spacingAndGlyphs">Wikiwiki Shuttle</text>
<text x="725.4" y="492.9" font-size="26.8" fill="#b22a7e" font-weight="bold" textLength="197.6" lengthAdjust="spacingAndGlyphs">Wikiwiki Shuttle</text>
<text x="1753.1" y="1027.9" font-size="26.8" fill="#b22a7e" font-weight="bold" textLength="195.6" lengthAdjust="spacingAndGlyphs">Wikiwiki Shuttle</text>
<rect x="1839.9" y="451.0" width="20.5" height="27" fill="#ffffff"/>
<g transform="translate(1842.9,454.5)"><path d="M0.3,16.6 V4 Q0.3,0.3 4,0.3 H10.5 Q14.2,0.3 14.2,4 V16.6 H13.4 V19.3 H10.6 V16.9 H3.9 V19.3 H1.1 V16.6 Z" fill="#b22a7e"/><rect x="2.6" y="1.6" width="9.3" height="1" fill="#fff"/><rect x="1.7" y="3.6" width="11.1" height="6" rx="0.9" fill="#fff"/><circle cx="3.3" cy="13" r="1.1" fill="#fff"/><circle cx="11.2" cy="13" r="1.1" fill="#fff"/></g>
<rect x="930.2" y="475.3" width="20.5" height="27" fill="#ffffff"/>
<g transform="translate(933.2,478.8)"><path d="M0.3,16.6 V4 Q0.3,0.3 4,0.3 H10.5 Q14.2,0.3 14.2,4 V16.6 H13.4 V19.3 H10.6 V16.9 H3.9 V19.3 H1.1 V16.6 Z" fill="#b22a7e"/><rect x="2.6" y="1.6" width="9.3" height="1" fill="#fff"/><rect x="1.7" y="3.6" width="11.1" height="6" rx="0.9" fill="#fff"/><circle cx="3.3" cy="13" r="1.1" fill="#fff"/><circle cx="11.2" cy="13" r="1.1" fill="#fff"/></g>
<rect x="1953.6" y="1007.9" width="20.5" height="27" fill="#ffffff"/>
<g transform="translate(1956.6,1011.4)"><path d="M0.3,16.6 V4 Q0.3,0.3 4,0.3 H10.5 Q14.2,0.3 14.2,4 V16.6 H13.4 V19.3 H10.6 V16.9 H3.9 V19.3 H1.1 V16.6 Z" fill="#b22a7e"/><rect x="2.6" y="1.6" width="9.3" height="1" fill="#fff"/><rect x="1.7" y="3.6" width="11.1" height="6" rx="0.9" fill="#fff"/><circle cx="3.3" cy="13" r="1.1" fill="#fff"/><circle cx="11.2" cy="13" r="1.1" fill="#fff"/></g>
<text x="2187.3" y="770.3" font-size="30.4" fill="#1a1a1a" font-weight="bold" textLength="210" lengthAdjust="spacingAndGlyphs">PREMIER CLUB</text>
<text x="2215.4" y="801.4" font-size="24.9" fill="#1a1a1a" textLength="155.4" lengthAdjust="spacingAndGlyphs">Second Floor</text>
<text x="2230" y="958.6" font-size="25.8" fill="#1a1a1a" textLength="129.3" lengthAdjust="spacingAndGlyphs">Third Floor</text>
<rect x="2027.5" y="917.4" width="111" height="1.3" fill="#333"/>
<text x="2148" y="927.5" font-size="39" font-style="italic" font-weight="bold" fill="#1a1a1a" class="serif" font-family="Liberation Serif" textLength="245" lengthAdjust="spacingAndGlyphs">The Plumeria Lounge</text>
<defs><linearGradient id="hal" x1="0.35" y1="0" x2="0.5" y2="0.75"><stop offset="0" stop-color="#c4267f"/><stop offset="0.5" stop-color="#7b2f88"/><stop offset="1" stop-color="#3c3080"/></linearGradient></defs>
<text x="1527.7" y="359.2" font-size="25.2" fill="#3a2f7c" font-weight="bold" textLength="131" lengthAdjust="spacingAndGlyphs">HAWAIIAN</text>
<text x="1592.2" y="374.3" font-size="11.5" fill="#4a4190" textLength="70" lengthAdjust="spacingAndGlyphs" letter-spacing="1.6">AIRLINES.</text>
<g transform="translate(1684.9,348.0) scale(0.99)"><circle cx="0" cy="0" r="20" fill="url(#hal)"/><path d="M-6.5,-13.6 C-3,-17.2 2,-19.2 8,-18.6 C16,-16.5 20.6,-8 20.1,0 C19.9,8 17,14 13,18.5 C9,22.5 6,24 2.3,24.9 C-1,26.6 -4,27.9 -7.6,28.3 C-5,25.5 -3.4,22.5 -2.7,19 L-3,12 L2.3,-7 Z" fill="#3a2f7c"/><path d="M-4.7,-11.9 C-7,-10 -8.5,-8 -9.2,-6 L-9.9,-3.9 L-11.1,-0.6 L-12.9,1.9 L-11.4,3.7 L-11.9,5 L-11.4,6.9 L-12,9.6 Q-11.7,10.8 -10.6,11.2 C-9,12 -7.5,12.3 -6.3,12.3 L-2.5,12.2 C-1,15 -0.3,19 0.2,24.2 C3,21.5 4.8,18 5.5,13.3 C5.8,9 5,6 4.5,4.7 C4.2,2 4,0 3.7,-1.7 C3.3,-4 3,-5.5 2.3,-7.1 C1.8,-9 1,-10 0.2,-10.9 C-1.5,-12 -3,-12.3 -4.7,-11.9 Z" fill="#ffffff"/><path d="M-8.6,-6.4 L-4.6,-7 M-8,-4.6 Q-6.6,-5.8 -5.2,-4.9 Q-6.6,-3.8 -8,-4.6 Z M-10.8,5.1 L-8.2,4.8" stroke="#3a2f7c" stroke-width="0.6" fill="#3a2f7c"/><path d="M12.6,11.5 L13.1,17.8 L11.9,14 Z" fill="#ffffff"/><path fill="#d84c39" d="M10.3,-20 C8,-19.5 6.8,-18 6.6,-16.7 C6.5,-15.5 6.8,-14.5 7.1,-13.9 C6,-15 4.8,-15 4,-14.7 C2.8,-14.2 1.8,-13.4 1.4,-12.4 C0.8,-11.4 0.6,-10.4 0.7,-9.5 C1,-8 2.2,-6.5 3.4,-5.5 C3.3,-4.4 3.5,-3.3 4,-2.4 C4.6,-1.2 5.6,-0.2 6.8,0.2 C8.2,0.4 9.8,0 10.9,-0.6 C12,-1.4 12.5,-2.2 13,-3 C14.5,-1.5 18,-1.2 20.1,-2.4 C21,-4 21.2,-6 20.6,-7.8 C20,-8.4 19.4,-8.8 18.9,-9 C19.8,-8.6 20.6,-8.5 21.2,-8.7 C22.2,-9.4 22.7,-10.4 22.6,-11.3 C22.8,-12.8 22.5,-14 21.8,-15 C21,-16 19.6,-16.7 18.3,-16.7 C17.3,-16.6 16.3,-16.3 15.5,-15.9 C15.9,-16.5 16.1,-17.1 16,-17.6 C15.6,-18.4 14.7,-19 13.7,-19.3 C12.6,-19.8 11.4,-20.1 10.3,-20 Z"/><path d="M8.2,-8.2 L9.4,-9.8 L8.4,-12.2 L10.4,-11.6 L11.6,-12.6 L12.2,-11.6 L13.2,-13.3 L14,-11.9 L15.8,-12.8 L14.8,-10.8 Q13,-9.3 11.4,-9 L9.6,-7.6 L9.7,-8.8 Z" fill="#4a3382"/></g>
<rect x="1555.8000000000002" y="397.0" width="112.3" height="31.6" rx="15.8" fill="#2a9bac"/>
<text x="1574.5" y="422.6" font-size="27.3" fill="#ffffff" font-weight="bold" textLength="74.6" lengthAdjust="spacingAndGlyphs">Gates</text>
<text x="1544.85" y="455.6" font-size="17" fill="#222" textLength="133.3" lengthAdjust="spacingAndGlyphs">North America &amp;</text>
<text x="1512.45" y="475.7" font-size="17" fill="#222" textLength="198.1" lengthAdjust="spacingAndGlyphs">International Departures</text>
<text x="1913.5" y="280.3" font-size="25.2" fill="#3a2f7c" font-weight="bold" textLength="131" lengthAdjust="spacingAndGlyphs">HAWAIIAN</text>
<text x="1978.0" y="295.40000000000003" font-size="11.5" fill="#4a4190" textLength="70" lengthAdjust="spacingAndGlyphs" letter-spacing="1.6">AIRLINES.</text>
<g transform="translate(2070.7,269.1) scale(0.99)"><circle cx="0" cy="0" r="20" fill="url(#hal)"/><path d="M-6.5,-13.6 C-3,-17.2 2,-19.2 8,-18.6 C16,-16.5 20.6,-8 20.1,0 C19.9,8 17,14 13,18.5 C9,22.5 6,24 2.3,24.9 C-1,26.6 -4,27.9 -7.6,28.3 C-5,25.5 -3.4,22.5 -2.7,19 L-3,12 L2.3,-7 Z" fill="#3a2f7c"/><path d="M-4.7,-11.9 C-7,-10 -8.5,-8 -9.2,-6 L-9.9,-3.9 L-11.1,-0.6 L-12.9,1.9 L-11.4,3.7 L-11.9,5 L-11.4,6.9 L-12,9.6 Q-11.7,10.8 -10.6,11.2 C-9,12 -7.5,12.3 -6.3,12.3 L-2.5,12.2 C-1,15 -0.3,19 0.2,24.2 C3,21.5 4.8,18 5.5,13.3 C5.8,9 5,6 4.5,4.7 C4.2,2 4,0 3.7,-1.7 C3.3,-4 3,-5.5 2.3,-7.1 C1.8,-9 1,-10 0.2,-10.9 C-1.5,-12 -3,-12.3 -4.7,-11.9 Z" fill="#ffffff"/><path d="M-8.6,-6.4 L-4.6,-7 M-8,-4.6 Q-6.6,-5.8 -5.2,-4.9 Q-6.6,-3.8 -8,-4.6 Z M-10.8,5.1 L-8.2,4.8" stroke="#3a2f7c" stroke-width="0.6" fill="#3a2f7c"/><path d="M12.6,11.5 L13.1,17.8 L11.9,14 Z" fill="#ffffff"/><path fill="#d84c39" d="M10.3,-20 C8,-19.5 6.8,-18 6.6,-16.7 C6.5,-15.5 6.8,-14.5 7.1,-13.9 C6,-15 4.8,-15 4,-14.7 C2.8,-14.2 1.8,-13.4 1.4,-12.4 C0.8,-11.4 0.6,-10.4 0.7,-9.5 C1,-8 2.2,-6.5 3.4,-5.5 C3.3,-4.4 3.5,-3.3 4,-2.4 C4.6,-1.2 5.6,-0.2 6.8,0.2 C8.2,0.4 9.8,0 10.9,-0.6 C12,-1.4 12.5,-2.2 13,-3 C14.5,-1.5 18,-1.2 20.1,-2.4 C21,-4 21.2,-6 20.6,-7.8 C20,-8.4 19.4,-8.8 18.9,-9 C19.8,-8.6 20.6,-8.5 21.2,-8.7 C22.2,-9.4 22.7,-10.4 22.6,-11.3 C22.8,-12.8 22.5,-14 21.8,-15 C21,-16 19.6,-16.7 18.3,-16.7 C17.3,-16.6 16.3,-16.3 15.5,-15.9 C15.9,-16.5 16.1,-17.1 16,-17.6 C15.6,-18.4 14.7,-19 13.7,-19.3 C12.6,-19.8 11.4,-20.1 10.3,-20 Z"/><path d="M8.2,-8.2 L9.4,-9.8 L8.4,-12.2 L10.4,-11.6 L11.6,-12.6 L12.2,-11.6 L13.2,-13.3 L14,-11.9 L15.8,-12.8 L14.8,-10.8 Q13,-9.3 11.4,-9 L9.6,-7.6 L9.7,-8.8 Z" fill="#4a3382"/></g>
<rect x="1941.6000000000001" y="316.6" width="112.3" height="31.6" rx="15.8" fill="#2a9bac"/>
<text x="1960.3" y="342.20000000000005" font-size="27.3" fill="#ffffff" font-weight="bold" textLength="74.6" lengthAdjust="spacingAndGlyphs">Gates</text>
<text x="1930.6499999999999" y="374.20000000000005" font-size="17" fill="#222" textLength="133.3" lengthAdjust="spacingAndGlyphs">North America &amp;</text>
<text x="1898.25" y="394.3" font-size="17" fill="#222" textLength="198.1" lengthAdjust="spacingAndGlyphs">International Departures</text>
<text x="2178.3" y="563.75" font-size="25.2" fill="#3a2f7c" font-weight="bold" textLength="131" lengthAdjust="spacingAndGlyphs">HAWAIIAN</text>
<text x="2242.8" y="578.85" font-size="11.5" fill="#4a4190" textLength="70" lengthAdjust="spacingAndGlyphs" letter-spacing="1.6">AIRLINES.</text>
<g transform="translate(2335.5,552.55) scale(0.99)"><circle cx="0" cy="0" r="20" fill="url(#hal)"/><path d="M-6.5,-13.6 C-3,-17.2 2,-19.2 8,-18.6 C16,-16.5 20.6,-8 20.1,0 C19.9,8 17,14 13,18.5 C9,22.5 6,24 2.3,24.9 C-1,26.6 -4,27.9 -7.6,28.3 C-5,25.5 -3.4,22.5 -2.7,19 L-3,12 L2.3,-7 Z" fill="#3a2f7c"/><path d="M-4.7,-11.9 C-7,-10 -8.5,-8 -9.2,-6 L-9.9,-3.9 L-11.1,-0.6 L-12.9,1.9 L-11.4,3.7 L-11.9,5 L-11.4,6.9 L-12,9.6 Q-11.7,10.8 -10.6,11.2 C-9,12 -7.5,12.3 -6.3,12.3 L-2.5,12.2 C-1,15 -0.3,19 0.2,24.2 C3,21.5 4.8,18 5.5,13.3 C5.8,9 5,6 4.5,4.7 C4.2,2 4,0 3.7,-1.7 C3.3,-4 3,-5.5 2.3,-7.1 C1.8,-9 1,-10 0.2,-10.9 C-1.5,-12 -3,-12.3 -4.7,-11.9 Z" fill="#ffffff"/><path d="M-8.6,-6.4 L-4.6,-7 M-8,-4.6 Q-6.6,-5.8 -5.2,-4.9 Q-6.6,-3.8 -8,-4.6 Z M-10.8,5.1 L-8.2,4.8" stroke="#3a2f7c" stroke-width="0.6" fill="#3a2f7c"/><path d="M12.6,11.5 L13.1,17.8 L11.9,14 Z" fill="#ffffff"/><path fill="#d84c39" d="M10.3,-20 C8,-19.5 6.8,-18 6.6,-16.7 C6.5,-15.5 6.8,-14.5 7.1,-13.9 C6,-15 4.8,-15 4,-14.7 C2.8,-14.2 1.8,-13.4 1.4,-12.4 C0.8,-11.4 0.6,-10.4 0.7,-9.5 C1,-8 2.2,-6.5 3.4,-5.5 C3.3,-4.4 3.5,-3.3 4,-2.4 C4.6,-1.2 5.6,-0.2 6.8,0.2 C8.2,0.4 9.8,0 10.9,-0.6 C12,-1.4 12.5,-2.2 13,-3 C14.5,-1.5 18,-1.2 20.1,-2.4 C21,-4 21.2,-6 20.6,-7.8 C20,-8.4 19.4,-8.8 18.9,-9 C19.8,-8.6 20.6,-8.5 21.2,-8.7 C22.2,-9.4 22.7,-10.4 22.6,-11.3 C22.8,-12.8 22.5,-14 21.8,-15 C21,-16 19.6,-16.7 18.3,-16.7 C17.3,-16.6 16.3,-16.3 15.5,-15.9 C15.9,-16.5 16.1,-17.1 16,-17.6 C15.6,-18.4 14.7,-19 13.7,-19.3 C12.6,-19.8 11.4,-20.1 10.3,-20 Z"/><path d="M8.2,-8.2 L9.4,-9.8 L8.4,-12.2 L10.4,-11.6 L11.6,-12.6 L12.2,-11.6 L13.2,-13.3 L14,-11.9 L15.8,-12.8 L14.8,-10.8 Q13,-9.3 11.4,-9 L9.6,-7.6 L9.7,-8.8 Z" fill="#4a3382"/></g>
<rect x="2206.4" y="596.95" width="112.3" height="31.6" rx="15.8" fill="#2a9bac"/>
<text x="2225.1" y="622.5500000000001" font-size="27.3" fill="#ffffff" font-weight="bold" textLength="74.6" lengthAdjust="spacingAndGlyphs">Gates</text>
<text x="2126.95" y="655.5500000000001" font-size="17" fill="#222" textLength="270.3" lengthAdjust="spacingAndGlyphs">Neighbor Island, North America &amp;</text>
<text x="2163.35" y="675.6500000000001" font-size="17" fill="#222" textLength="197.5" lengthAdjust="spacingAndGlyphs">International Departures</text>
<path d="M2112.4,776.2 L2130.4,766.6 V785.8000000000001 Z" fill="#1b1b1b"/>
<rect x="2129.4" y="751.6" width="49.5" height="49.5" rx="7" fill="#1b1b1b"/>
<g transform="translate(2129.4,751.6) scale(1.0)" fill="#ffffff" stroke="none"><circle cx="9.7" cy="9.4" r="3.9" fill="none" stroke="#fff" stroke-width="0.8"/><path d="M9.7,7.2 V9.6 H11.3" fill="none" stroke="#fff" stroke-width="0.7"/><rect x="5.6" y="26.2" width="10.6" height="15.6" rx="1.7"/><path d="M8.4,26.2 V19.3 H12.8 V26.2" fill="none" stroke="#fff" stroke-width="1.1"/><rect x="7.3" y="41.8" width="1.7" height="1.5"/><rect x="12.8" y="41.8" width="1.7" height="1.5"/><circle cx="34.4" cy="10.9" r="3.6"/><path d="M34.3,17.6 L33.7,30.6" stroke="#fff" stroke-width="5" stroke-linecap="round" fill="none"/><path d="M33.8,31.3 H23.2 V41.6" stroke="#fff" stroke-width="4.2" stroke-linecap="round" stroke-linejoin="round" fill="none"/><path d="M21.4,22.2 H28 L32.6,17.4" stroke="#fff" stroke-width="2.6" stroke-linecap="round" stroke-linejoin="round" fill="none"/><path d="M18.5,15 L24.4,11.8 L26.2,16.5 V27.4 L18.5,25.6 Z M24.4,11.8 V17 L26.2,16.5" fill="none" stroke="#fff" stroke-width="0.9" stroke-linejoin="round"/><path d="M41.4,22.4 L38.4,34 H29" stroke="#fff" stroke-width="2.6" stroke-linecap="round" stroke-linejoin="round" fill="none"/><path d="M31.6,36 L27.8,42.6 M38.8,35.4 L43,42.6" stroke="#fff" stroke-width="1.5" stroke-linecap="round" fill="none"/></g>
<rect x="1968.0" y="890.4" width="53.9" height="53.9" rx="9" fill="#ffffff"/>
<path d="M1953.2,917.2 L1971.2,907.6 V926.8000000000001 Z" fill="#1b1b1b"/>
<rect x="1970.2" y="892.6" width="49.5" height="49.5" rx="7" fill="#1b1b1b"/>
<g transform="translate(1970.2,892.6) scale(1.0)" fill="#ffffff" stroke="none"><circle cx="9.7" cy="9.4" r="3.9" fill="none" stroke="#fff" stroke-width="0.8"/><path d="M9.7,7.2 V9.6 H11.3" fill="none" stroke="#fff" stroke-width="0.7"/><rect x="5.6" y="26.2" width="10.6" height="15.6" rx="1.7"/><path d="M8.4,26.2 V19.3 H12.8 V26.2" fill="none" stroke="#fff" stroke-width="1.1"/><rect x="7.3" y="41.8" width="1.7" height="1.5"/><rect x="12.8" y="41.8" width="1.7" height="1.5"/><circle cx="34.4" cy="10.9" r="3.6"/><path d="M34.3,17.6 L33.7,30.6" stroke="#fff" stroke-width="5" stroke-linecap="round" fill="none"/><path d="M33.8,31.3 H23.2 V41.6" stroke="#fff" stroke-width="4.2" stroke-linecap="round" stroke-linejoin="round" fill="none"/><path d="M21.4,22.2 H28 L32.6,17.4" stroke="#fff" stroke-width="2.6" stroke-linecap="round" stroke-linejoin="round" fill="none"/><path d="M18.5,15 L24.4,11.8 L26.2,16.5 V27.4 L18.5,25.6 Z M24.4,11.8 V17 L26.2,16.5" fill="none" stroke="#fff" stroke-width="0.9" stroke-linejoin="round"/><path d="M41.4,22.4 L38.4,34 H29" stroke="#fff" stroke-width="2.6" stroke-linecap="round" stroke-linejoin="round" fill="none"/><path d="M31.6,36 L27.8,42.6 M38.8,35.4 L43,42.6" stroke="#fff" stroke-width="1.5" stroke-linecap="round" fill="none"/></g>
<text x="1125" y="1246.9" font-size="60.6" fill="#3a2f7c" font-weight="bold" textLength="315" lengthAdjust="spacingAndGlyphs">HAWAIIAN</text>
<g transform="translate(1503.2,1220.1) scale(2.4)"><circle cx="0" cy="0" r="20" fill="url(#hal)"/><path d="M-6.5,-13.6 C-3,-17.2 2,-19.2 8,-18.6 C16,-16.5 20.6,-8 20.1,0 C19.9,8 17,14 13,18.5 C9,22.5 6,24 2.3,24.9 C-1,26.6 -4,27.9 -7.6,28.3 C-5,25.5 -3.4,22.5 -2.7,19 L-3,12 L2.3,-7 Z" fill="#3a2f7c"/><path d="M-4.7,-11.9 C-7,-10 -8.5,-8 -9.2,-6 L-9.9,-3.9 L-11.1,-0.6 L-12.9,1.9 L-11.4,3.7 L-11.9,5 L-11.4,6.9 L-12,9.6 Q-11.7,10.8 -10.6,11.2 C-9,12 -7.5,12.3 -6.3,12.3 L-2.5,12.2 C-1,15 -0.3,19 0.2,24.2 C3,21.5 4.8,18 5.5,13.3 C5.8,9 5,6 4.5,4.7 C4.2,2 4,0 3.7,-1.7 C3.3,-4 3,-5.5 2.3,-7.1 C1.8,-9 1,-10 0.2,-10.9 C-1.5,-12 -3,-12.3 -4.7,-11.9 Z" fill="#ffffff"/><path d="M-8.6,-6.4 L-4.6,-7 M-8,-4.6 Q-6.6,-5.8 -5.2,-4.9 Q-6.6,-3.8 -8,-4.6 Z M-10.8,5.1 L-8.2,4.8" stroke="#3a2f7c" stroke-width="0.6" fill="#3a2f7c"/><path d="M12.6,11.5 L13.1,17.8 L11.9,14 Z" fill="#ffffff"/><path fill="#d84c39" d="M10.3,-20 C8,-19.5 6.8,-18 6.6,-16.7 C6.5,-15.5 6.8,-14.5 7.1,-13.9 C6,-15 4.8,-15 4,-14.7 C2.8,-14.2 1.8,-13.4 1.4,-12.4 C0.8,-11.4 0.6,-10.4 0.7,-9.5 C1,-8 2.2,-6.5 3.4,-5.5 C3.3,-4.4 3.5,-3.3 4,-2.4 C4.6,-1.2 5.6,-0.2 6.8,0.2 C8.2,0.4 9.8,0 10.9,-0.6 C12,-1.4 12.5,-2.2 13,-3 C14.5,-1.5 18,-1.2 20.1,-2.4 C21,-4 21.2,-6 20.6,-7.8 C20,-8.4 19.4,-8.8 18.9,-9 C19.8,-8.6 20.6,-8.5 21.2,-8.7 C22.2,-9.4 22.7,-10.4 22.6,-11.3 C22.8,-12.8 22.5,-14 21.8,-15 C21,-16 19.6,-16.7 18.3,-16.7 C17.3,-16.6 16.3,-16.3 15.5,-15.9 C15.9,-16.5 16.1,-17.1 16,-17.6 C15.6,-18.4 14.7,-19 13.7,-19.3 C12.6,-19.8 11.4,-20.1 10.3,-20 Z"/><path d="M8.2,-8.2 L9.4,-9.8 L8.4,-12.2 L10.4,-11.6 L11.6,-12.6 L12.2,-11.6 L13.2,-13.3 L14,-11.9 L15.8,-12.8 L14.8,-10.8 Q13,-9.3 11.4,-9 L9.6,-7.6 L9.7,-8.8 Z" fill="#4a3382"/></g>
<rect x="998.7" y="1203" width="691" height="14.9" rx="7.45" fill="#000000" fill-opacity="0.73" stroke="#000" stroke-opacity="0.18" stroke-width="1"/>
</g>
</svg>
</body></html>
